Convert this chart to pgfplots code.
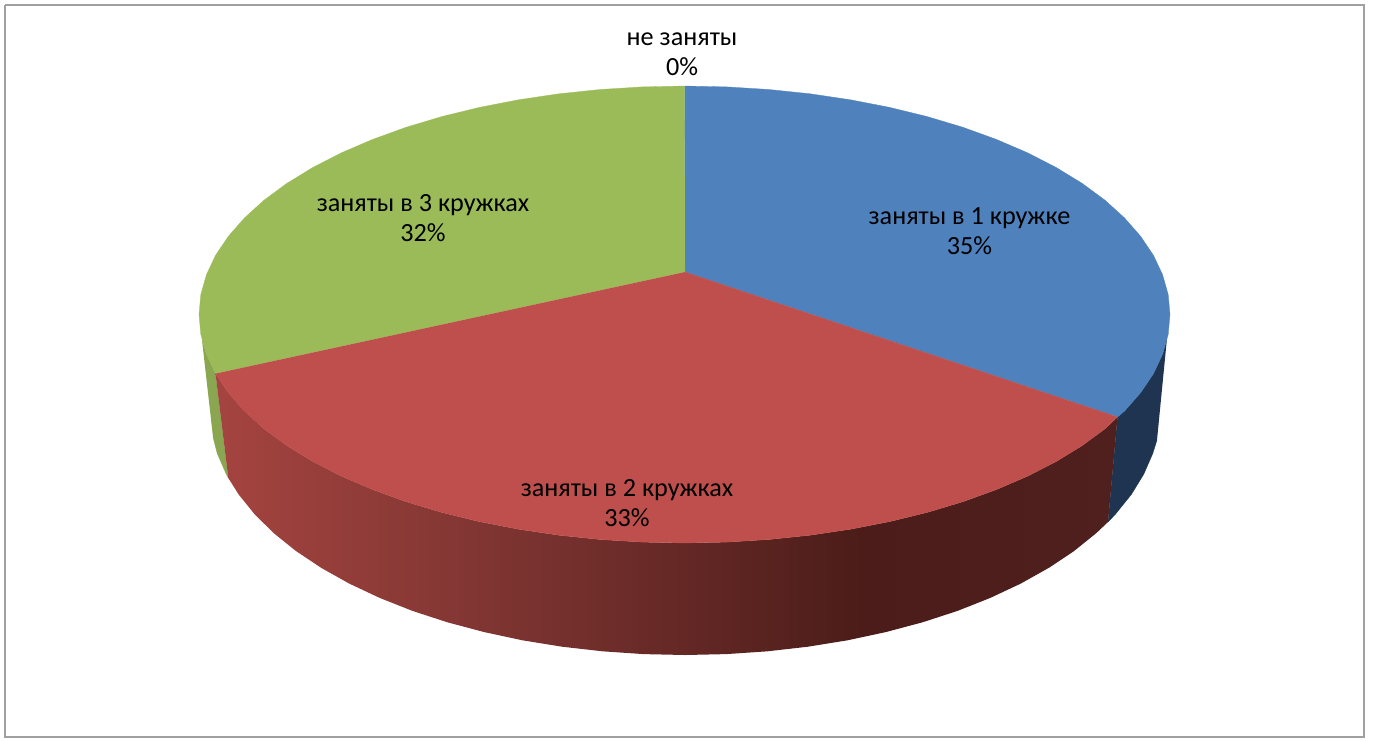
\documentclass[border=0pt]{standalone}
\usepackage{fontspec}
\setmainfont{Carlito}
\usepackage{pgfplots}
\usepackage{pgfplotstable}
\pgfplotsset{compat=1.18}
\definecolor{cblue}{HTML}{4F81BD}
\definecolor{cred}{RGB}{190,79,76}
\definecolor{cgreen}{HTML}{9BBB59}
\definecolor{cblueside}{RGB}{30,52,80}
\definecolor{cgreenside}{RGB}{139,166,80}
\definecolor{cframe}{RGB}{160,160,160}
\definecolor{rsA}{RGB}{165,68,64}
\definecolor{rsB}{RGB}{125,52,49}
\definecolor{rsC}{RGB}{75,28,25}
\definecolor{rsD}{RGB}{80,32,30}
\pgfdeclarehorizontalshading{redside}{100bp}{
 color(0bp)=(rsA);
 color(25bp)=(rsA);
 color(41bp)=(rsB);
 color(61bp)=(rsC);
 color(75bp)=(rsD);
 color(100bp)=(rsD)}
\pgfplotstableread{
x y
685 272
684.5 86
726.8 86.9
768.8 89.5
810.2 93.8
850.5 99.8
889.7 107.4
927.3 116.6
963 127.3
996.6 139.5
1027.8 152.9
1056.4 167.6
1082.2 183.4
1105 200.2
1124.5 217.9
1140.7 236.4
1153.5 255.4
1162.6 274.8
1168.2 294.6
1170 314.5
1168.2 334.4
1162.6 354.2
1153.5 373.6
1140.7 392.6
1124.5 411.1
1117.5 417
}\blueTop
\pgfplotstableread{
x y
685 272
1117.5 417
1105 428.8
1082.2 445.6
1056.4 461.4
1027.8 476.1
996.6 489.5
963 501.7
927.3 512.4
889.7 521.6
850.5 529.2
810.2 535.2
768.8 539.5
726.8 542.1
684.5 543
642.2 542.1
600.2 539.5
558.8 535.2
518.5 529.2
479.3 521.6
441.7 512.4
406 501.7
372.4 489.5
341.2 476.1
312.6 461.4
286.8 445.6
264 428.8
244.5 411.1
228.3 392.6
215.5 373.6
}\redTop
\pgfplotstableread{
x y
685 272
215.5 373.6
206.4 354.2
200.8 334.4
199 314.5
200.8 294.6
206.4 274.8
215.5 255.4
228.3 236.4
244.5 217.9
264 200.2
286.8 183.4
312.6 167.6
341.2 152.9
372.4 139.5
406 127.3
441.7 116.6
479.3 107.4
518.5 99.8
558.8 93.8
600.2 89.5
642.2 86.9
684.5 86
}\greenTop
\pgfplotstableread{
x y
1167 338
1162.6 354.2
1153.5 373.6
1140.7 392.6
1124.5 411.1
1117.5 417
1108 522
1115.5 514.1
1131.4 494.4
1143.8 474.1
1152.8 453.4
1157 440
}\blueSide
\pgfplotstableread{
x y
202 340
206.4 354.2
215.5 373.6
228.3 478
226.2 474.1
217.2 453.4
213 437
}\greenSide
\pgfplotstableread{
x y
1117.5 417
1105 428.8
1082.2 445.6
1056.4 461.4
1027.8 476.1
996.6 489.5
963 501.7
927.3 512.4
889.7 521.6
850.5 529.2
810.2 535.2
768.8 539.5
726.8 542.1
684.5 543
642.2 542.1
600.2 539.5
558.8 535.2
518.5 529.2
479.3 521.6
441.7 512.4
406 501.7
372.4 489.5
341.2 476.1
312.6 461.4
286.8 445.6
264 428.8
244.5 411.1
228.3 392.6
215.5 373.6
228.3 478
238.6 494.4
254.5 514.1
273.6 533
295.9 551
321.1 567.8
349.1 583.5
379.7 597.9
412.5 610.9
447.5 622.3
484.3 632.1
522.5 640.3
562.1 646.7
602.5 651.3
643.6 654.1
685 655
726.4 654.1
767.5 651.3
807.9 646.7
847.5 640.3
885.7 632.1
922.5 622.3
957.5 610.9
990.3 597.9
1020.9 583.5
1048.9 567.8
1074.1 551
1096.4 533
1108 522
}\redSide
\pgfplotstableread{
x y
5 5
1364 5
1364 737
5 737
5 5
}\frameBox
\begin{document}
\begin{tikzpicture}
\begin{axis}[
  width=1376pt, height=740pt, scale only axis,
  xmin=0, xmax=1376, ymin=0, ymax=740,
  y dir=reverse, axis lines=none, clip=false,
]
\path (axis cs:0,0) rectangle (axis cs:1376,740);
\addplot[draw=cframe, line width=1.6pt, no markers] table {\frameBox};
\addplot[fill=cblueside, draw=cblueside, line width=0.3pt, no markers] table {\blueSide};
\addplot[fill=cgreenside, draw=cgreenside, line width=0.3pt, no markers] table {\greenSide};
\addplot[draw=none, shade, shading=redside, no markers] table {\redSide};
\addplot[fill=cblue, draw=cblue, line width=0.3pt, no markers] table {\blueTop};
\addplot[fill=cgreen, draw=cgreen, line width=0.3pt, no markers] table {\greenTop};
\addplot[fill=cred, draw=cred, line width=0.3pt, no markers] table {\redTop};
\begin{scope}[every node/.style={font=\fontsize{26.2}{29.5}\selectfont, align=center, text=black, inner sep=0pt}]
\node at (axis cs:682,54) {не заняты\\0\%};
\node at (axis cs:969.5,231) {заняты в 1 кружке\\35\%};
\node at (axis cs:627,503) {заняты в 2 кружках\\33\%};
\node at (axis cs:423,218) {заняты в 3 кружках\\32\%};
\end{scope}
\end{axis}
\end{tikzpicture}
\end{document}
